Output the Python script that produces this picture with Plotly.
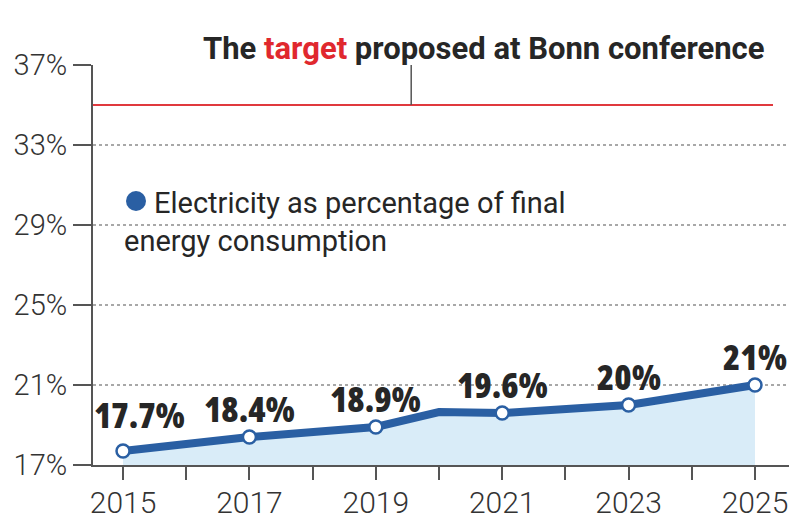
import plotly.graph_objects as go

# ---- data ----
line_years = [2015, 2017, 2019, 2020, 2021, 2023, 2025]
line_share = [17.7, 18.4, 18.9, 19.65, 19.6, 20.0, 21.0]
point_years = [2015, 2017, 2019, 2021, 2023, 2025]
point_share = [17.7, 18.4, 18.9, 19.6, 20.0, 21.0]
point_labels = ["17.7%", "18.4%", "18.9%", "19.6%", "20%", "21%"]
target_share = 35.0
y_ticks = [17, 21, 25, 29, 33, 37]
y_tick_labels = ["17%", "21%", "25%", "29%", "33%", "37%"]
x_ticks = list(range(2015, 2026))
x_tick_labels = [str(y) if y % 2 == 1 else "" for y in x_ticks]

# ---- style ----
BLUE = "#2a5fa3"
FILL = "#d9ecf8"
RED = "#e0393e"
AXIS = "#555555"
TEXT = "#262626"
FONT = "Roboto, sans-serif"
LABEL_FONT = "Open Sans, Roboto, sans-serif"

W, H = 789, 524
L, R, T, B = 93, 0, 65, 59
X_RANGE = [2014.525, 2025.538]
Y_RANGE = [17, 37]


def px_x(X):
    return (X - L) / (W - L - R)


def px_y(Y):
    return (H - B - Y) / (H - T - B)


fig = go.Figure()

fig.add_trace(go.Scatter(
    x=line_years, y=line_share, mode="lines",
    line=dict(color=BLUE, width=8),
    fill="tozeroy", fillcolor=FILL,
    hoverinfo="skip", showlegend=False,
))
fig.add_trace(go.Scatter(
    x=point_years, y=point_share, mode="markers",
    marker=dict(size=13, color="white", line=dict(color=BLUE, width=2.5)),
    showlegend=False,
))

# target line and leader
fig.add_shape(type="line", xref="x", yref="y",
              x0=X_RANGE[0], x1=2025.285, y0=target_share, y1=target_share,
              line=dict(color=RED, width=2))
fig.add_shape(type="line", xref="x", yref="y",
              x0=2019.56, x1=2019.56, y0=target_share, y1=Y_RANGE[1],
              line=dict(color=AXIS, width=1.5))

# data labels (condensed heavy face)
for i, (xv, yv, lab) in enumerate(zip(point_years, point_share, point_labels)):
    fig.add_annotation(
        x=xv, y=yv, xref="x", yref="y",
        text=f'<span style="font-stretch:condensed">{lab}</span>',
        showarrow=False, yanchor="middle", xanchor="center",
        xshift=16 if i == 0 else 0, yshift=37 if i == 0 else 29,
        font=dict(family=LABEL_FONT, size=35, color=TEXT, weight=800),
    )

# title
fig.add_annotation(
    x=px_x(201), y=px_y(48), xref="paper", yref="paper",
    xanchor="left", yanchor="middle", showarrow=False,
    text='The <span style="color:#e0282e">target</span> proposed at Bonn conference',
    font=dict(family=FONT, size=31, color=TEXT, weight="bold"),
)

# legend
fig.add_shape(type="circle", xref="paper", yref="paper",
              xsizemode="pixel", ysizemode="pixel",
              xanchor=px_x(136), yanchor=px_y(201),
              x0=-10, x1=10, y0=-10, y1=10,
              fillcolor=BLUE, line=dict(width=0))
fig.add_annotation(
    x=px_x(152), y=px_y(203), xref="paper", yref="paper",
    xanchor="left", yanchor="middle", showarrow=False,
    text="Electricity as percentage of final",
    font=dict(family=FONT, size=29, color=TEXT),
)
fig.add_annotation(
    x=px_x(122), y=px_y(241), xref="paper", yref="paper",
    xanchor="left", yanchor="middle", showarrow=False,
    text="energy consumption",
    font=dict(family=FONT, size=29, color=TEXT),
)

fig.update_layout(
    width=W, height=H,
    margin=dict(l=L, r=R, t=T, b=B),
    paper_bgcolor="white", plot_bgcolor="white",
    xaxis=dict(
        range=X_RANGE, tickvals=x_ticks, ticktext=x_tick_labels,
        showgrid=False, zeroline=False,
        showline=True, linecolor=AXIS, linewidth=2,
        ticks="outside", ticklen=13, tickwidth=2, tickcolor=AXIS,
        ticklabelstandoff=-3,
        tickfont=dict(family=FONT, size=30, color="#333333", weight=300),
        fixedrange=True,
    ),
    yaxis=dict(
        range=Y_RANGE, tickvals=y_ticks, ticktext=y_tick_labels,
        showgrid=True, gridcolor="#a8a8a8", gridwidth=2, griddash="dot",
        zeroline=False,
        showline=True, linecolor=AXIS, linewidth=2,
        ticks="outside", ticklen=18, tickwidth=2, tickcolor=AXIS,
        ticklabelstandoff=0,
        tickfont=dict(family=FONT, size=29, color="#333333", weight=300),
        fixedrange=True,
    ),
)

fig.write_html("out.html", config={"displayModeBar": False},
               post_script="document.body.style.margin='0';")
